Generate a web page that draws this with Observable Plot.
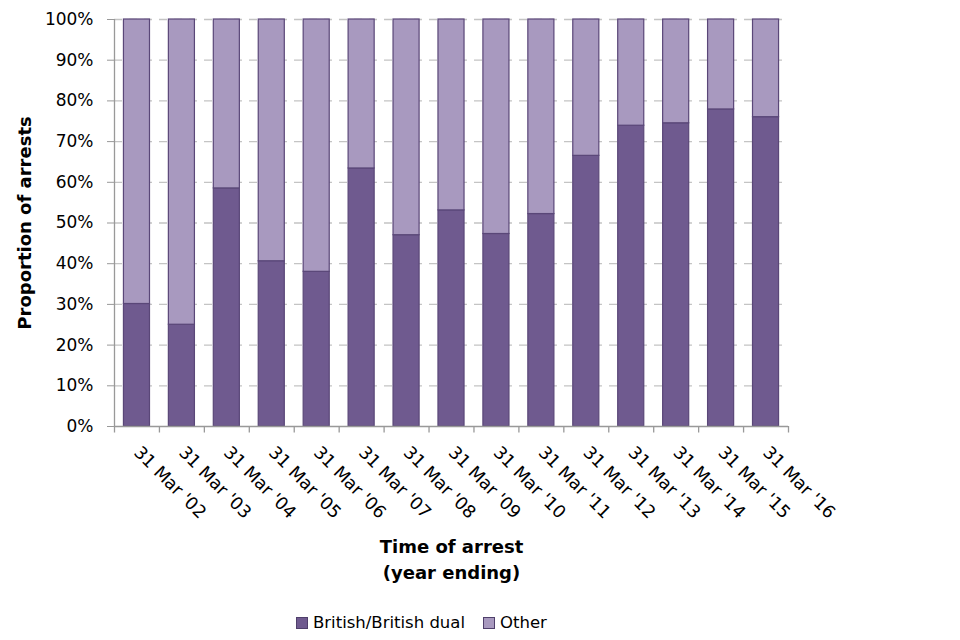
<!DOCTYPE html>
<html><head><meta charset="utf-8">
<script src="https://cdn.jsdelivr.net/npm/d3@7"></script>
<script src="https://cdn.jsdelivr.net/npm/@observablehq/plot@0.6"></script>
<style>
html,body{margin:0;background:#fff;overflow:hidden;font-family:"DejaVu Sans",Verdana,sans-serif;}
#chart svg{display:block;}
#legend{display:flex;align-items:center;margin-left:296px;height:35px;font-size:16.5px;color:#000;}
.sw{display:inline-block;width:10px;height:10px;border:1px solid #4f3f6b;margin-right:5px;}
.item{display:flex;align-items:center;margin-right:18px;}
</style></head><body>
<div id="chart"></div>
<div id="legend"></div>
<script>
const years = ["31 Mar '02","31 Mar '03","31 Mar '04","31 Mar '05","31 Mar '06","31 Mar '07","31 Mar '08","31 Mar '09","31 Mar '10","31 Mar '11","31 Mar '12","31 Mar '13","31 Mar '14","31 Mar '15","31 Mar '16"];
const british = [0.301,0.250,0.585,0.406,0.380,0.634,0.470,0.531,0.473,0.522,0.665,0.739,0.745,0.779,0.760];
const groups = ["British/British dual","Other"];
const colors = ["#6f5a8f","#a899bf"];
const yTicks = [0,0.1,0.2,0.3,0.4,0.5,0.6,0.7,0.8,0.9,1];

const data = [];
years.forEach((y,i)=>{
  data.push({year:y, group:groups[0], value:british[i]});
  data.push({year:y, group:groups[1], value:1-british[i]});
});

const W=960, H=605, mL=114, mR=172, mT=19, mB=179;
const step=(W-mL-mR)/years.length;

const chart = Plot.plot({
  width:W, height:H, marginLeft:mL, marginRight:mR, marginTop:mT, marginBottom:mB,
  style:{fontFamily:'"DejaVu Sans",Verdana,sans-serif', fontSize:"16.5px", color:"#000", background:"#fff"},
  x:{domain:years, paddingInner:0.42, paddingOuter:0.21, round:false, label:null},
  y:{domain:[0,1], label:null},
  color:{domain:groups, range:colors},
  marks:[
    Plot.gridY(yTicks.slice(1), {stroke:"#c4c4c4", strokeOpacity:1, strokeDasharray:"8,7", strokeWidth:1.3}),
    Plot.barY(data, {x:"year", y:"value", fill:"group", stroke:"#5a4778", strokeWidth:1.2, order:groups}),
    Plot.ruleY([0], {stroke:"#999", strokeWidth:1.3}),
    Plot.ruleX([years[0]], {y1:0, y2:1, dx:-step/2, stroke:"#999", strokeWidth:1.3}),
    Plot.ruleX(years, {y1:0, y2:-0.016, dx:-step/2, stroke:"#999", strokeWidth:1.3}),
    Plot.ruleX([years[years.length-1]], {y1:0, y2:-0.016, dx:step/2, stroke:"#999", strokeWidth:1.3}),
    Plot.axisY(yTicks, {tickFormat:d=>Math.round(d*100)+"%", tickSize:7, tickPadding:14, stroke:"#999", label:null, fontSize:"17px"}),
    Plot.axisX({tickSize:0, tickRotate:45, tickPadding:23, label:null, fontSize:"17.5px"}),
    Plot.text(["Proportion of arrests"], {frameAnchor:"left", textAnchor:"middle", rotate:-90, dx:-89, fontWeight:"bold", fontSize:18}),
    Plot.text(["Time of arrest\n(year ending)"], {frameAnchor:"bottom", lineAnchor:"top", dy:108, fontWeight:"bold", fontSize:18, lineHeight:1.45})
  ]
});
document.getElementById("chart").appendChild(chart);

const lg=document.getElementById("legend");
groups.forEach((g,i)=>{
  const it=document.createElement("span"); it.className="item";
  const s=document.createElement("span"); s.className="sw"; s.style.background=colors[i];
  it.appendChild(s); it.appendChild(document.createTextNode(g)); lg.appendChild(it);
});
</script></body></html>
